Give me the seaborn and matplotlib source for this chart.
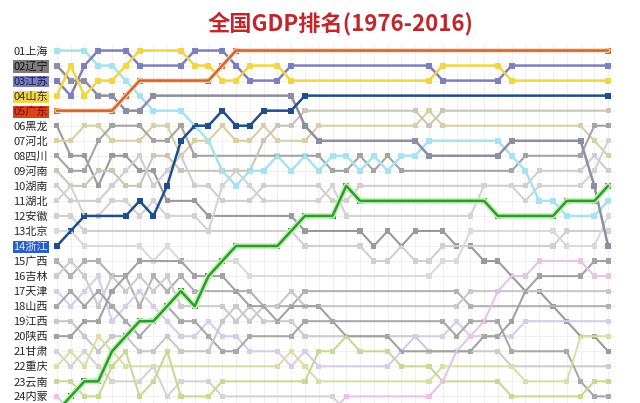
import pandas as pd
import matplotlib
matplotlib.use("Agg")
import matplotlib.pyplot as plt
import seaborn as sns

# 1976..2016
years = list(range(1976, 2017))

# 各省份逐年GDP排名
shanghai = [1,1,1,2,2,3,4,5,5,5, 6,7,9,10,9,9,8,9,8,9, 8,8,9,8,9,8,8,7,7,7, 7,7,7,8,9,11,11,12,12,12, 11]
liaoning = [2,3,3,4,4,5,5,4,4,4, 4,4,4,4,4,4,4,4,6,7, 7,7,7,7,7,7,7,8,8,8, 8,8,8,7,7,7,7,7,7,10, 14]
jiangsu  = [3,4,2,1,1,1,2,2,2,2, 1,1,1,2,3,3,3,2,2,2, 2,2,2,2,2,2,2,2,3,3, 3,3,3,2,2,2,2,2,2,2, 2]
shandong = [4,2,4,3,3,2,1,1,1,1, 2,2,3,3,2,2,2,3,3,3, 3,3,3,3,3,3,3,3,2,2, 2,2,2,3,3,3,3,3,3,3, 3]
guangdong = [5,5,5,5,5,4,3,3,3,3, 3,3,2,1,1,1,1,1,1,1, 1,1,1,1,1,1,1,1,1,1, 1,1,1,1,1,1,1,1,1,1, 1]
heilong  = [6,8,8,10,8,8,9,9,11,11, 11,12,12,12,12,12,12,12,13,13, 13,13,13,14,13,14,13,13,13,14, 14,15,15,16,17,17,18,19,20,20, 21]
hebei    = [7,7,6,6,7,7,7,6,6,8, 7,7,6,7,7,6,7,7,7,6, 6,6,6,6,6,6,6,5,6,6, 6,6,6,6,6,6,6,6,6,7, 8]
sichuan  = [8,9,9,7,6,6,6,7,7,6, 8,8,8,8,8,8,8,8,8,8, 9,9,8,9,8,9,9,9,9,9, 9,9,9,9,8,8,8,8,8,6, 6]
henan    = [9,10,10,9,9,10,10,8,8,9, 9,9,9,9,9,7,6,6,5,5, 5,5,5,5,5,5,5,6,5,5, 5,5,5,5,5,5,5,5,5,5, 5]
hunan    = [10,11,11,11,10,9,8,10,9,8, 10,10,11,11,11,10,10,10,10,10, 11,11,10,10,10,10,10,10,10,10, 10,10,10,10,10,9,9,9,9,8, 9]
hubei    = [11,10,12,12,11,11,12,11,12,12, 12,13,10,9,10,11,11,11,11,11, 10,12,12,12,12,12,12,12,12,12, 12,10,10,10,11,10,10,10,10,9, 7]
anhui    = [12,12,13,13,13,13,13,13,13,13, 13,13,13,13,13,13,13,13,14,14, 14,14,14,15,15,14,15,15,14,14, 14,14,14,14,14,14,14,13,13,13, 13]
beijing  = [13,13,14,14,14,14,14,15,14,15, 15,15,15,15,16,16,16,16,16,16, 16,16,16,16,16,16,16,16,15,15, 13,13,13,13,13,13,13,14,14,14, 12]
zhejiang = [14,13,12,12,12,12,11,12,10,7, 6,6,5,6,6,5,5,5,4,4, 4,4,4,4,4,4,4,4,4,4, 4,4,4,4,4,4,4,4,4,4, 4]
guangxi  = [15,16,15,15,16,16,18,16,17,16, 17,17,17,17,17,18,18,18,17,17, 17,17,17,17,17,17,17,17,17,17, 18,18,18,18,18,18,18,18,18,18, 18]
jilin    = [16,15,16,18,16,17,16,17,16,18, 18,18,18,19,18,19,19,19,20,20, 20,20,20,20,20,20,20,21,21,21, 21,21,21,22,22,22,22,22,22,22, 22]
tianjin  = [17,18,17,16,19,18,17,18,19,20, 20,19,20,20,21,21,21,22,21,22, 22,22,22,22,22,21,20,20,20,19, 20,20,20,20,19,19,19,19,19,19, 19]
shanxi   = [18,17,18,17,18,19,20,19,18,19, 19,20,21,21,20,20,20,20,19,19, 19,19,19,19,19,19,19,19,19,20, 19,19,19,21,21,21,21,21,23,24, 24]
jiangxi  = [19,19,20,21,20,20,21,21,20,21, 21,21,19,18,19,18,18,17,18,18, 18,18,18,18,18,18,18,18,18,18, 17,17,17,17,17,17,17,17,17,17, 17]
shaanxi  = [20,20,19,19,17,16,15,15,15,15, 16,16,16,17,18,18,19,18,18,18, 19,20,20,20,20,21,21,21,21,21, 21,20,20,19,17,16,16,16,16,15, 15]
gansu    = [21,22,21,22,23,23,23,22,24,23, 23,23,24,24,24,24,24,24,24,24, 24,25,25,25,25,25,25,26,27,27, 27,27,27,27,27,27,27,27,27,27, 27]
chongqing = [22,21,22,20,21,22,22,22,22,22, 22,22,22,22,22,22,22,21,22,23, 23,23,23,23,23,23,23,23,22,22, 22,22,22,22,23,23,23,23,20,20, 20]
yunnan   = [23,23,24,24,22,21,24,23,21,24, 24,24,23,23,23,23,23,23,23,21, 21,20,21,21,21,22,22,22,23,23, 23,23,23,24,24,24,24,24,24,23, 23]
neimeng  = [24,25,25,26,25,26,25,26,25,25, 25,25,25,25,25,25,25,25,25,25, 25,24,24,24,24,24,24,24,23,21, 20,19,17,16,16,15,15,15,15,16, 16]
fujian   = [25,24,23,23,21,20,19,19,18,17, 18,16,15,14,14,14,14,13,12,12, 12,10,11,11,11,11,11,11,11,11, 11,11,12,12,12,12,12,11,11,11, 10]

tick_labels = ["01上海", "02辽宁", "03江苏", "04山东", "05广东", "06黑龙", "07河北", "08四川",
               "09河南", "10湖南", "11湖北", "12安徽", "13北京", "14浙江", "15广西", "16吉林",
               "17天津", "18山西", "19江西", "20陕西", "21甘肃", "22重庆", "23云南", "24内蒙"]

faint = {
    "黑龙江": (heilong, "#9a9a9a"), "河北": (hebei, "#d9cfa6"), "四川": (sichuan, "#a4a4a4"),
    "河南": (henan, "#c9c5b8"), "湖南": (hunan, "#cfcfcf"), "湖北": (hubei, "#d3d3d3"),
    "安徽": (anhui, "#d0d0d0"), "北京": (beijing, "#dadada"), "广西": (guangxi, "#b2b2b2"),
    "吉林": (jilin, "#cccccc"), "天津": (tianjin, "#d6cdea"), "山西": (shanxi, "#a9a9a9"),
    "江西": (jiangxi, "#c8c8c8"), "陕西": (shaanxi, "#a2a2a2"), "甘肃": (gansu, "#d4d4d4"),
    "重庆": (chongqing, "#d9dfa6"), "云南": (yunnan, "#c9d894"), "内蒙": (neimeng, "#e9c2ea"),
}
main = {
    "上海": (shanghai, "#a6e2ef"), "辽宁": (liaoning, "#8d8da3"), "江苏": (jiangsu, "#7f7fbd"),
    "山东": (shandong, "#f0d545"), "广东": (guangdong, "#d2652a"), "浙江": (zhejiang, "#1f4e8c"),
    "福建": (fujian, "#2e9b2e"),
}


def to_long(d):
    rows = []
    for name, (r, c) in d.items():
        for i, y in enumerate(years):
            turn = i == 0 or i == len(r) - 1 or r[i] != r[i - 1] or r[i] != r[i + 1]
            rows.append({"prov": name, "year": y, "rank": r[i], "turn": turn})
    return pd.DataFrame(rows)


sns.set_style("white")
plt.rcParams['font.family'] = ['Noto Sans CJK SC', 'DejaVu Sans']

fig = plt.figure(figsize=(6.4, 4.03), dpi=100)
ax = fig.add_axes([50 / 640, 0, 565 / 640, 360 / 403])

df_f = to_long(faint)
pal_f = {k: v[1] for k, v in faint.items()}
sns.lineplot(data=df_f, x="year", y="rank", hue="prov", palette=pal_f, estimator=None,
             sort=False, legend=False, lw=1.5, ax=ax)
sns.scatterplot(data=df_f[df_f["turn"]], x="year", y="rank", hue="prov", palette=pal_f,
                marker="s", s=14, linewidth=0, legend=False, ax=ax)

# 高亮省份, 广东/福建加浅色光晕
glow = {"广东": ("#f7d9c4", 3.4), "福建": ("#c2f2b6", 4.2)}
df_m = to_long(main)
for name in main:
    sub = df_m[df_m["prov"] == name]
    if name in glow:
        sns.lineplot(data=sub, x="year", y="rank", color=glow[name][0], lw=glow[name][1],
                     estimator=None, sort=False, legend=False, ax=ax)
    sns.lineplot(data=sub, x="year", y="rank", color=main[name][1], lw=1.8,
                 estimator=None, sort=False, legend=False, ax=ax)
    sns.scatterplot(data=sub[sub["turn"]], x="year", y="rank", color=main[name][1],
                    marker="s", s=18, linewidth=0, legend=False, ax=ax)

ax.set_xlim(1975.5, 2016.5)
ax.set_ylim(24.44, 0.5)
ax.set_xticks(years)
ax.set_xticklabels([])
ax.set_yticks(range(1, 25))
ax.set_yticklabels(tick_labels, fontsize=8)
ax.tick_params(length=0, pad=1.5)
ax.grid(True, color="#eeeeee", lw=0.6)
ax.set_axisbelow(True)
ax.set_xlabel("")
ax.set_ylabel("")
sns.despine(ax=ax, left=True, bottom=True)

# 标签底色
boxes = {1: ("#7d7d7d", "#111111"), 2: ("#7b7bc0", "#1a1a40"), 3: ("#f3d54a", "#333333"),
         4: ("#d9431b", "#7a0a00"), 13: ("#2a5ec8", "#dfe8ff")}
for idx, (bg, fg) in boxes.items():
    t = ax.get_yticklabels()[idx]
    t.set_color(fg)
    t.set_bbox(dict(facecolor=bg, edgecolor="none", pad=0.6))

fig.text(0.532, 0.942, "全国GDP排名(1976-2016)", ha="center", va="center",
         fontsize=16, fontweight="bold", color="#c0262c")

fig.savefig("out.png", dpi=100)
